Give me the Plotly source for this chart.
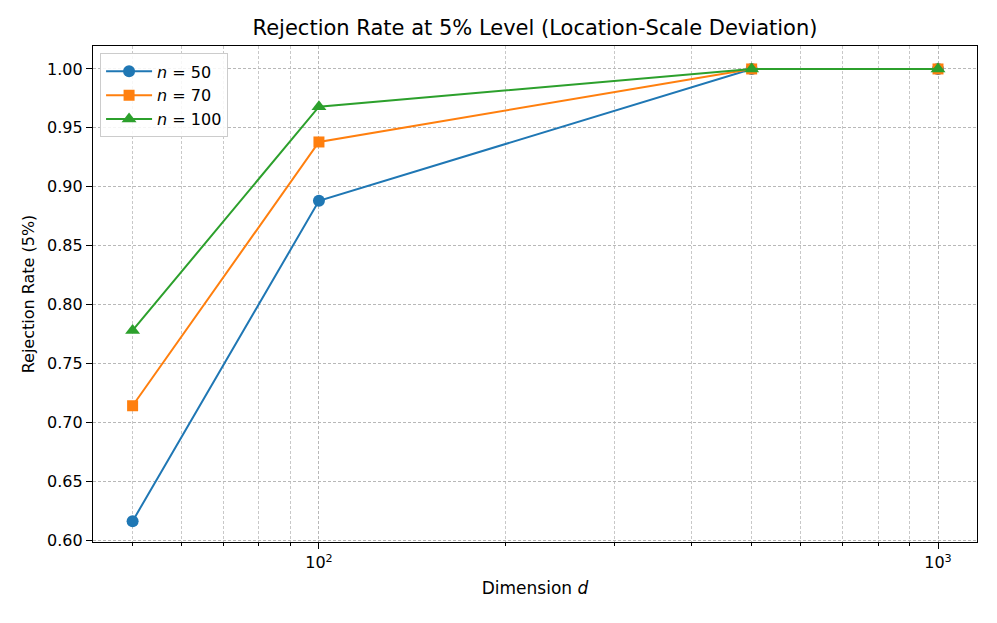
import plotly.graph_objects as go

dims = [50, 100, 500, 1000]
rate_n50 = [0.616, 0.888, 1.0, 1.0]
rate_n70 = [0.714, 0.938, 1.0, 1.0]
rate_n100 = [0.778, 0.968, 1.0, 1.0]
series_names = ["<i>n</i> = 50", "<i>n</i> = 70", "<i>n</i> = 100"]
colors = ["#1f77b4", "#ff7f0e", "#2ca02c"]
symbols = ["circle", "square", "triangle-up"]
marker_sizes = [12, 11, 13]
y_ticks = [0.60, 0.65, 0.70, 0.75, 0.80, 0.85, 0.90, 0.95, 1.00]
minor_vals = [50, 60, 70, 80, 90, 200, 300, 400, 500, 600, 700, 800, 900]

fig = go.Figure()
for name, vals, c, s, ms in zip(series_names, [rate_n50, rate_n70, rate_n100], colors, symbols, marker_sizes):
    fig.add_trace(go.Scatter(x=dims, y=vals, mode="lines+markers", name=name,
                             line=dict(color=c, width=2),
                             marker=dict(symbol=s, size=ms, color=c)))

# page body has an 8px default margin; compensate so the plot lands where the reference is
W, H = 989, 615
font = "DejaVu Sans, sans-serif"
grid = dict(showgrid=True, gridcolor="#b8b8b8", griddash="3px,2px", gridwidth=0.8)
fig.update_layout(
    width=W, height=H,
    margin=dict(l=85, r=20, t=38, b=81, autoexpand=False),
    paper_bgcolor="white", plot_bgcolor="white",
    font=dict(family=font, size=16, color="black"),
    title=dict(text="Rejection Rate at 5% Level (Location-Scale Deviation)",
               x=(535 - 8) / W, xanchor="center", y=1 - (28 - 8) / H, yanchor="middle",
               font=dict(size=21)),
    xaxis=dict(type="log", range=[1.635, 3.063], tickmode="array",
               tickvals=[100, 1000], ticktext=["10<sup>2</sup>", "10<sup>3</sup>"],
               ticks="outside", ticklen=6, tickcolor="black", automargin=False,
               showline=True, linecolor="black", linewidth=1.2, mirror=True,
               title=dict(text="Dimension <i>d</i>", standoff=10,
                          font=dict(family=font, size=17)),
               minor=dict(tickmode="array", tickvals=minor_vals, ticks="outside",
                          ticklen=3, tickcolor="black", showgrid=True,
                          gridcolor="#c8c8c8", griddash="3px,2px", gridwidth=0.6),
               zeroline=False, **grid),
    yaxis=dict(range=[0.5983, 1.0195], tickmode="array", tickvals=y_ticks,
               tickformat=".2f", ticks="outside", ticklen=6, tickcolor="black", automargin=False,
               showline=True, linecolor="black", linewidth=1.2, mirror=True,
               title=dict(text="Rejection Rate (5%)", standoff=8,
                          font=dict(family=font, size=16)),
               zeroline=False, **grid),
    legend=dict(x=0.008, y=0.985, xanchor="left", yanchor="top", itemwidth=46,
                bgcolor="rgba(255,255,255,0.85)", bordercolor="#cccccc", borderwidth=1,
                font=dict(size=16), tracegroupgap=0),
    showlegend=True,
)

fig.write_html("out.html")
